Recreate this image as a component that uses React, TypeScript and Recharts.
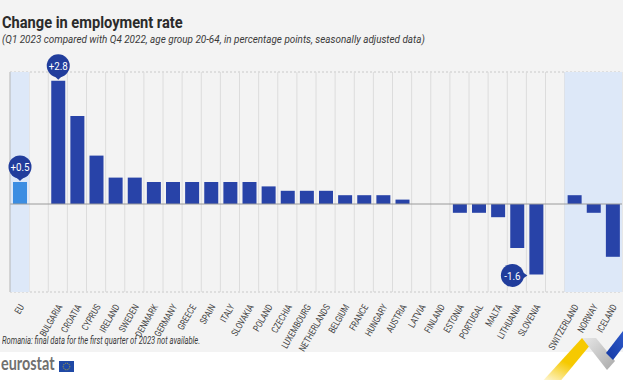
import React from "react";
import {
  BarChart, Bar, XAxis, YAxis, CartesianGrid, ReferenceArea, ReferenceLine, Cell, LabelList,
} from "recharts";

// categories in display order; gap1/gap2 are empty spacer slots
const countries = [
  "EU", "gap1", "Bulgaria", "Croatia", "Cyprus", "Ireland", "Sweden", "Denmark", "Germany",
  "Greece", "Spain", "Italy", "Slovakia", "Poland", "Czechia", "Luxembourg", "Netherlands",
  "Belgium", "France", "Hungary", "Austria", "Latvia", "Finland", "Estonia", "Portugal",
  "Malta", "Lithuania", "Slovenia", "gap2", "Switzerland", "Norway", "Iceland",
];
const changes = [
  0.5, null, 2.8, 2.0, 1.1, 0.6, 0.6, 0.5, 0.5,
  0.5, 0.5, 0.5, 0.5, 0.4, 0.3, 0.3, 0.3,
  0.2, 0.2, 0.2, 0.1, 0.0, 0.0, -0.2, -0.2,
  -0.3, -1.0, -1.6, null, 0.2, -0.2, -1.2,
];
const yTicks = [-2, -1.5, -1, -0.5, 0, 0.5, 1, 1.5, 2, 2.5, 3];
const bubbles = ["EU", "Bulgaria", "Slovenia"];

const data = countries.map((name, i) => ({
  name,
  value: changes[i],
  bubble: bubbles.includes(name) ? changes[i] : null,
  eu: name === "EU",
}));

const FONT = "Roboto, 'Open Sans', sans-serif";
const DARK = "#2843a8";
const LIGHT = "#3b8de2";

function XTick(props: any) {
  const { x, y, payload } = props;
  const v: string = payload.value;
  if (v.startsWith("gap")) return null;
  return (
    <g transform={`translate(${x + 2},${y + 5}) rotate(-60) scale(0.8,1)`}>
      <text x={0} y={0} textAnchor="end" dominantBaseline="central" fontFamily={FONT} fontSize={9.5} fill="#444">
        {v.toUpperCase()}
      </text>
    </g>
  );
}

function Bubble(props: any) {
  const { x, y, width, height, value } = props;
  if (value == null) return null;
  const cx = x + width / 2;
  const txt = (value > 0 ? "+" : "") + value.toFixed(1);
  const color = value === changes[0] && x < 40 ? LIGHT : "#213d9c";
  const r = 11.5;
  const label = (tx: number, ty: number) => (
    <g transform={`translate(${tx},${ty + 0.5}) scale(0.85,1)`}>
      <text x={0} y={0} textAnchor="middle" dominantBaseline="central" fill="#fff" fontFamily={FONT} fontSize={11.5}>
        {txt}
      </text>
    </g>
  );
  if (value >= 0) {
    const top = Math.min(y, y + height);
    const cy = top - 15;
    return (
      <g>
        <circle cx={cx} cy={cy} r={r} fill={color} />
        <path d={`M${cx - 5},${cy + 9} L${cx + 5},${cy + 9} L${cx},${top - 1} Z`} fill={color} />
        {label(cx, cy)}
      </g>
    );
  }
  const bottom = Math.max(y, y + height);
  const bx = cx - width / 2 - 17;
  const by = bottom + 1;
  return (
    <g>
      <circle cx={bx} cy={by} r={r} fill={color} />
      <path d={`M${bx + 8},${by - 5} L${bx + 8},${by + 5} L${bx + 15},${by} Z`} fill={color} />
      {label(bx, by)}
    </g>
  );
}

export default function App() {
  return (
    <div style={{ position: "fixed", left: 0, top: 0, width: 623, height: 380, overflow: "hidden", background: "#fff" }}>
      <div style={{ position: "absolute", left: 0, top: 0, width: 623, height: 352, background: "#f3f3f3" }} />
      <div style={{ position: "absolute", left: 2, top: 12, fontFamily: FONT, fontWeight: 700, fontSize: 17, color: "#2b2b2b", whiteSpace: "nowrap", transform: "scaleX(0.86)", transformOrigin: "left" }}>
        Change in employment rate
      </div>
      <div style={{ position: "absolute", left: 2, top: 33, fontFamily: FONT, fontStyle: "italic", fontSize: 11, color: "#3a3a3a", whiteSpace: "nowrap", transform: "scaleX(0.9)", transformOrigin: "left" }}>
        (Q1 2023 compared with Q4 2022, age group 20-64, in percentage points, seasonally adjusted data)
      </div>
      <div style={{ position: "absolute", left: -30, top: 0 }}>
        <BarChart width={653} height={352} data={data} margin={{ top: 72, right: 1, left: 0, bottom: 0 }} barSize={14}>
          <ReferenceArea x1="EU" x2="EU" fill="#dde8f8" fillOpacity={1} />
          <ReferenceArea x1="Switzerland" x2="Iceland" fill="#dde8f8" fillOpacity={1} />
          <CartesianGrid vertical={false} strokeDasharray="2 2" stroke="#c9c9c9" />
          <CartesianGrid
            horizontal={false}
            stroke="#dcdcdc"
            verticalCoordinatesGenerator={({ offset }: any) =>
              countries.map((_, i) => offset.left + ((i + 1) * offset.width) / countries.length)
            }
          />
          <XAxis dataKey="name" interval={0} tick={<XTick />} tickLine={false} axisLine={false} height={60} />
          <YAxis
            domain={[-2, 3]}
            ticks={yTicks}
            width={40}
            tick={false}
            tickLine={false}
            axisLine={{ stroke: "#b5b5b5" }}
          />
          <ReferenceLine y={0} stroke="#9a9a9a" />
          <Bar dataKey="value" isAnimationActive={false}>
            {data.map((d) => (
              <Cell key={d.name} fill={d.eu ? LIGHT : DARK} />
            ))}
            <LabelList dataKey="bubble" content={<Bubble />} />
          </Bar>
        </BarChart>
      </div>
      <div style={{ position: "absolute", left: 2, top: 334, fontFamily: FONT, fontStyle: "italic", fontSize: 10.5, color: "#3a3a3a", whiteSpace: "nowrap", transform: "scaleX(0.72)", transformOrigin: "left" }}>
        Romania: final data for the first quarter of 2023 not available.
      </div>
      <div style={{ position: "absolute", left: 1, top: 352, fontFamily: "Lato, 'Open Sans', sans-serif", fontWeight: 700, fontSize: 18, color: "#707070", whiteSpace: "nowrap", transform: "scaleX(0.8)", transformOrigin: "left" }}>
        eurostat
      </div>
      <svg style={{ position: "absolute", left: 0, top: 0 }} width={623} height={380}>
        <rect x={59} y={361} width={15} height={11} fill="#1f49a6" />
        <circle cx={66.5} cy={366.5} r={3.3} fill="none" stroke="#f5d000" strokeWidth={0.9} strokeDasharray="0.8 1.2" />
        <defs>
          <linearGradient id="yel" x1="0" y1="1" x2="0.6" y2="0">
            <stop offset="0" stopColor="#f6c900" stopOpacity={0} />
            <stop offset="0.55" stopColor="#f6c900" stopOpacity={1} />
          </linearGradient>
          <linearGradient id="gry" x1="0" y1="0" x2="1" y2="1">
            <stop offset="0" stopColor="#e8e8e8" />
            <stop offset="1" stopColor="#a9a9a9" />
          </linearGradient>
          <linearGradient id="blu" x1="0" y1="1" x2="1" y2="0">
            <stop offset="0" stopColor="#1639a3" />
            <stop offset="1" stopColor="#2c58c8" />
          </linearGradient>
        </defs>
        <polygon points="540,384 558,384 596,338 582,338" fill="url(#yel)" />
        <polygon points="582,338 596,338 615,361 607,370" fill="url(#gry)" />
        <polygon points="606,353 623,331 623,347 613,360" fill="url(#blu)" />
      </svg>
    </div>
  );
}
